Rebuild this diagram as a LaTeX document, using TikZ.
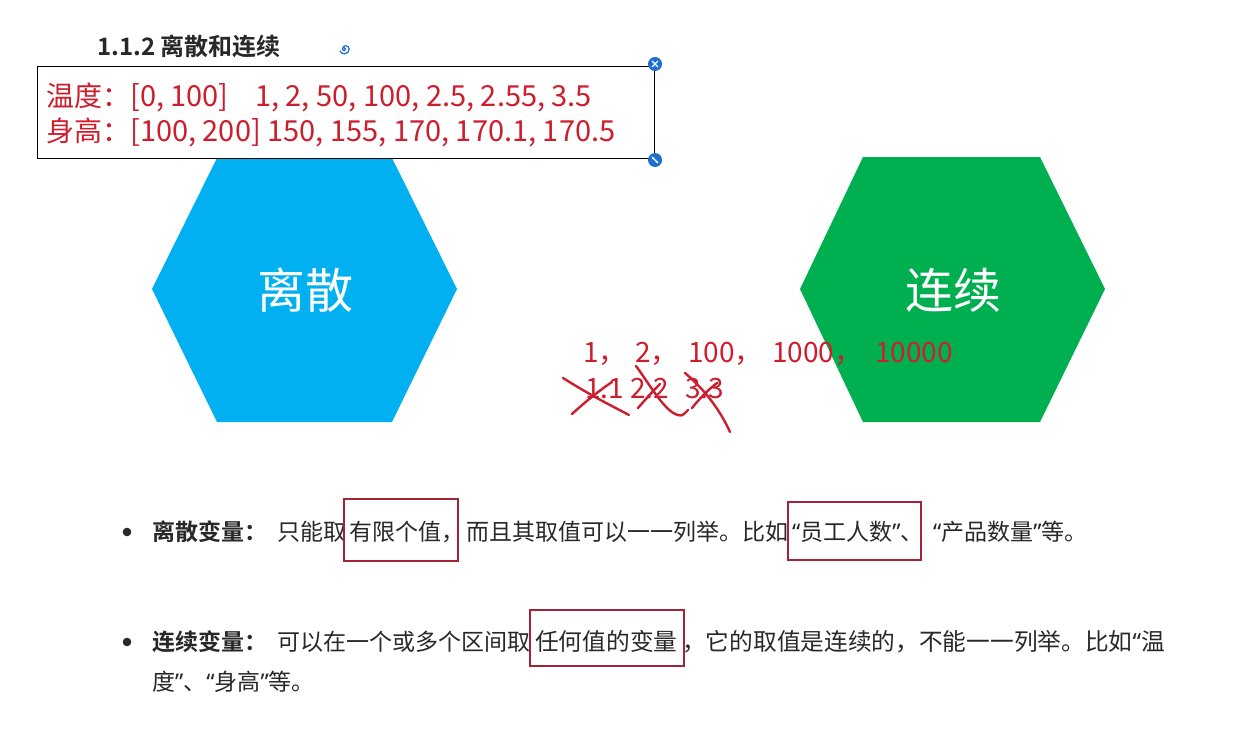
\documentclass[tikz,border=0pt]{standalone}
\usepackage{fontspec}
\usetikzlibrary{calc,arrows.meta}
\setmainfont{Noto Sans CJK SC}[BoldFont={Noto Sans CJK SC Bold}]
\newfontfamily\qfont{Noto Sans}
\newcommand\oq{{\qfont “}}
\newcommand\cq{{\qfont ”}}
\definecolor{hexblue}{RGB}{0,176,240}
\definecolor{hexgreen}{RGB}{0,176,80}
\definecolor{inkred}{RGB}{205,30,45}
\definecolor{boxred}{RGB}{165,35,55}
\definecolor{bodytext}{RGB}{40,40,40}
\definecolor{iconblue}{RGB}{30,110,210}
\tikzset{
  seg/.style={anchor=west, inner sep=0pt, text height=20.24pt, text depth=2.76pt, text=bodytext, font=\fontsize{23}{27}\selectfont},
  wideseg/.style={seg, font=\fontsize{23.7}{27}\selectfont},
  boldseg/.style={seg, font=\fontsize{23}{27}\selectfont\bfseries},
  redtxt/.style={anchor=west, inner sep=0pt, text height=24.64pt, text depth=3.36pt, text=inkred, font=\fontsize{28}{32}\selectfont},
  redlat/.style={redtxt, font=\fontsize{29}{32}\selectfont},
  hand/.style={anchor=west, inner sep=0pt, text height=24.64pt, text depth=3.36pt, text=inkred, font=\fontsize{28}{32}\selectfont},
  hexlabel/.style={text=white, font=\fontsize{48}{52}\selectfont},
  markbox/.style={draw=boxred, line width=1.1pt},
  stroke/.style={draw=inkred, line width=2.4pt, line cap=round, line join=round},
  icon/.style={circle, fill=iconblue, minimum size=14pt, inner sep=0pt}
}
\begin{document}
\begin{tikzpicture}[x=1pt,y=-1pt]
\useasboundingbox[fill=white] (0,0) rectangle (1244,733);

% title
\node[anchor=west, inner sep=0pt, text height=21.1pt, text depth=2.9pt, text=bodytext, font=\fontsize{24}{28}\selectfont\bfseries] (title) at (97,46) {1.1.2 离散和连续};
\coordinate (sw) at (344,46);
\draw[iconblue, line width=1.2pt] (sw) ++(0,1.5) arc (-90:180:1.6) arc (180:360:3.4) arc (0:160:4.8);

% hexagons
\fill[hexblue] (152,289) -- (217,158) -- (392,158) -- (457,289) -- (392,422) -- (217,422) -- cycle;
\node[hexlabel] (disc) at (305,290) {离散};
\fill[hexgreen] (800,289) -- (863,157) -- (1040,157) -- (1105,289) -- (1040,422) -- (863,422) -- cycle;
\node[hexlabel] (cont) at (953,290) {连续};

% textbox
\draw[black, line width=1pt] (37,67) rectangle (654,158);
\node[redtxt] (t1a) at (46,96) {温度：};
\node[redlat] (t1b) at (130,96) {[0, 100]};
\node[redlat] (t1c) at (255,96) {1, 2, 50, 100, 2.5, 2.55, 3.5};
\node[redtxt] (t2a) at (46,131) {身高：};
\node[redlat] (t2b) at (130,131) {[100, 200] 150, 155, 170, 170.1, 170.5};
\node[icon] (close) at (655,64) {};
\draw[white, line width=1.3pt] ($(close)+(-3,-3)$) -- ($(close)+(3,3)$) ($(close)+(-3,3)$) -- ($(close)+(3,-3)$);
\node[icon] (resize) at (655,160) {};
\draw[white, line width=1.1pt, -{Stealth[length=3pt]}] (resize.center) -- ++(3.5,3.5);
\draw[white, line width=1.1pt, -{Stealth[length=3pt]}] (resize.center) -- ++(-3.5,-3.5);

% handwritten numbers
\node[hand] (n1) at (583,352) {1，};
\node[hand] (n2) at (635,352) {2，};
\node[hand] (n3) at (688,352) {100，};
\node[hand] (n4) at (772,352) {1000，};
\node[hand] (n5) at (875,352) {10000};
\node[hand] (d1) at (585,388) {1.1};
\node[hand] (d2) at (630,388) {2.2};
\node[hand] (d3) at (685,388) {3.3};

% cross-out strokes
\draw[stroke] (563,378) .. controls (590,395) and (610,405) .. (629,415);
\draw[stroke] (572,414) .. controls (585,402) and (600,390) .. (612,382);
\draw[stroke] (636,366) .. controls (650,385) and (665,412) .. (678,415) .. controls (682,416) .. (688,410);
\draw[stroke] (638,408) .. controls (645,400) and (652,392) .. (660,384);
\draw[stroke] (685,373) .. controls (705,390) and (720,410) .. (730,432);
\draw[stroke] (692,408) .. controls (700,398) and (708,390) .. (717,383);

% bullet 1
\fill[bodytext] (127,532) circle (4.3);
\node[boldseg] (b1a) at (152,532) {离散变量：};
\node[seg] (b1b) at (277,532) {只能取};
\node[seg] (b1c) at (349,532) {有限个值，};
\node[seg] (b1d) at (466,532) {而且其取值可以一一列举。比如};
\node[seg] (b1e) at (792,532) {\oq 员工人数\cq 、};
\node[seg] (b1f) at (933,532) {\oq 产品数量\cq 等。};
\draw[markbox] (344,499) rectangle (458,561);
\draw[markbox] (788,502) rectangle (921,560);

% bullet 2
\fill[bodytext] (127,642) circle (4.3);
\node[boldseg] (b2a) at (152,642) {连续变量：};
\node[seg] (b2b) at (277,642) {可以在一个或多个区间取};
\node[wideseg] (b2c) at (535,642) {任何值的变量};
\node[wideseg] (b2d) at (682,642) {，它的取值是连续的，不能一一列举。比如\oq 温};
\node[seg] (b2e) at (152,682) {度\cq 、\oq 身高\cq 等。};
\draw[markbox] (530,610) rectangle (684,666);
\end{tikzpicture}
\end{document}
